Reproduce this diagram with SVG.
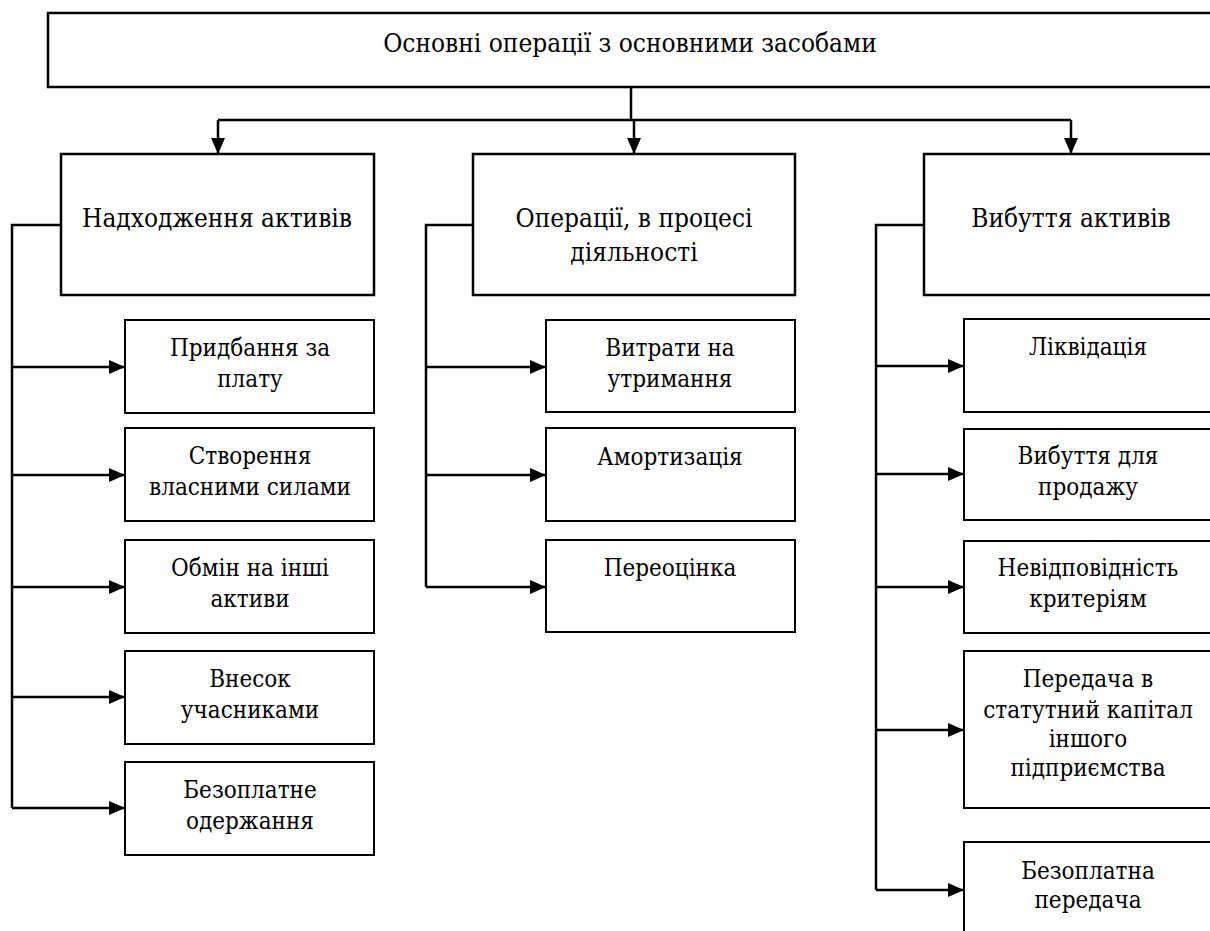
<svg xmlns="http://www.w3.org/2000/svg" width="1210" height="931" viewBox="0 0 1210 931">
<style>
.box{fill:#fff;stroke:#000;stroke-width:2}
.l2{stroke-width:2.5}
text{fill:#000;text-anchor:middle;font-family:'DejaVu Serif Condensed','DejaVu Serif',serif;font-stretch:condensed}
.t1{font-size:26px}
.t3{font-size:24px}
.c{fill:none;stroke:#000;stroke-width:2.5}
</style>
<defs>
<marker id="ah" markerUnits="userSpaceOnUse" markerWidth="16" markerHeight="14" refX="16" refY="7" orient="auto">
<path d="M0,0 L16,7 L0,14 Z" fill="#000"/>
</marker>
</defs>
<rect width="1210" height="931" fill="#fff"/>
<g id="connectors">
<path class="c" d="M631,87 V120"/>
<path class="c" d="M218,120 H1071"/>
<path class="c" d="M218,120 V154" marker-end="url(#ah)"/>
<path class="c" d="M634,120 V154" marker-end="url(#ah)"/>
<path class="c" d="M1071,120 V154" marker-end="url(#ah)"/>
<path class="c" d="M61,225 H12 V808"/>
<path class="c" d="M12,367 H125" marker-end="url(#ah)"/>
<path class="c" d="M12,475 H125" marker-end="url(#ah)"/>
<path class="c" d="M12,587 H125" marker-end="url(#ah)"/>
<path class="c" d="M12,697 H125" marker-end="url(#ah)"/>
<path class="c" d="M12,808 H125" marker-end="url(#ah)"/>
<path class="c" d="M473,225 H426 V587"/>
<path class="c" d="M426,367 H546" marker-end="url(#ah)"/>
<path class="c" d="M426,475 H546" marker-end="url(#ah)"/>
<path class="c" d="M426,587 H546" marker-end="url(#ah)"/>
<path class="c" d="M924,225 H876 V890"/>
<path class="c" d="M876,366 H964" marker-end="url(#ah)"/>
<path class="c" d="M876,474 H964" marker-end="url(#ah)"/>
<path class="c" d="M876,587 H964" marker-end="url(#ah)"/>
<path class="c" d="M876,730 H964" marker-end="url(#ah)"/>
<path class="c" d="M876,890 H964" marker-end="url(#ah)"/>
</g>
<g id="root">
<rect class="box l2" x="48" y="13" width="1170" height="74"/>
<text class="t1" x="630" y="52">Основні операції з основними засобами</text>
</g>
<g id="incoming">
<rect class="box l2" x="61" y="154" width="313" height="141"/>
<text class="t1" x="217" y="227">Надходження активів</text>
</g>
<g id="operations">
<rect class="box l2" x="473" y="154" width="322" height="141"/>
<text class="t1" x="634" y="227">Операції, в процесі</text>
<text class="t1" x="634" y="261">діяльності</text>
</g>
<g id="disposal">
<rect class="box l2" x="924" y="154" width="300" height="141"/>
<text class="t1" x="1071" y="227">Вибуття активів</text>
</g>
<g id="purchase">
<rect class="box" x="125" y="320" width="249" height="93"/>
<text class="t3" x="250" y="356">Придбання за</text>
<text class="t3" x="250" y="387">плату</text>
</g>
<g id="own">
<rect class="box" x="125" y="428" width="249" height="93"/>
<text class="t3" x="250" y="464">Створення</text>
<text class="t3" x="250" y="495">власними силами</text>
</g>
<g id="exchange">
<rect class="box" x="125" y="540" width="249" height="93"/>
<text class="t3" x="250" y="576">Обмін на інші</text>
<text class="t3" x="250" y="607">активи</text>
</g>
<g id="contribution">
<rect class="box" x="125" y="651" width="249" height="93"/>
<text class="t3" x="250" y="687">Внесок</text>
<text class="t3" x="250" y="718">учасниками</text>
</g>
<g id="free-receipt">
<rect class="box" x="125" y="762" width="249" height="93"/>
<text class="t3" x="250" y="798">Безоплатне</text>
<text class="t3" x="250" y="829">одержання</text>
</g>
<g id="maintenance">
<rect class="box" x="546" y="320" width="249" height="92"/>
<text class="t3" x="670" y="356">Витрати на</text>
<text class="t3" x="670" y="387">утримання</text>
</g>
<g id="depreciation">
<rect class="box" x="546" y="428" width="249" height="93"/>
<text class="t3" x="670" y="465">Амортизація</text>
</g>
<g id="revaluation">
<rect class="box" x="546" y="540" width="249" height="92"/>
<text class="t3" x="670" y="576">Переоцінка</text>
</g>
<g id="liquidation">
<rect class="box" x="964" y="319" width="260" height="93"/>
<text class="t3" x="1088" y="355">Ліквідація</text>
</g>
<g id="sale">
<rect class="box" x="964" y="429" width="260" height="91"/>
<text class="t3" x="1088" y="464">Вибуття для</text>
<text class="t3" x="1088" y="495">продажу</text>
</g>
<g id="criteria">
<rect class="box" x="964" y="541" width="260" height="92"/>
<text class="t3" x="1088" y="576">Невідповідність</text>
<text class="t3" x="1088" y="607">критеріям</text>
</g>
<g id="capital">
<rect class="box" x="964" y="651" width="260" height="157"/>
<text class="t3" x="1088" y="687">Передача в</text>
<text class="t3" x="1088" y="718">статутний капітал</text>
<text class="t3" x="1088" y="747">іншого</text>
<text class="t3" x="1088" y="776">підприємства</text>
</g>
<g id="free-transfer">
<rect class="box" x="964" y="842" width="260" height="100"/>
<text class="t3" x="1088" y="879">Безоплатна</text>
<text class="t3" x="1088" y="908">передача</text>
</g>
</svg>
